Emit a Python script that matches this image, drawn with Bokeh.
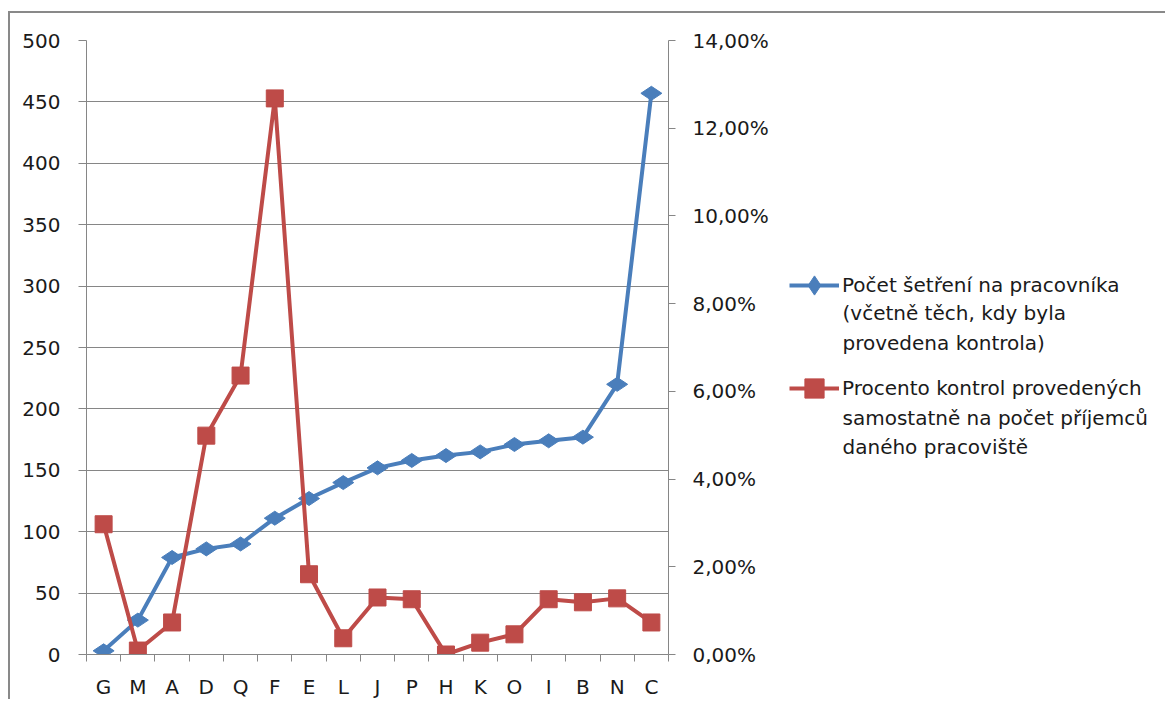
import math
from bokeh.plotting import figure
from bokeh.layouts import row
from bokeh.models import Range1d, LinearAxis, FixedTicker, Legend, LegendItem, Label
from bokeh.embed import file_html
from bokeh.resources import INLINE

categories = ["G", "M", "A", "D", "Q", "F", "E", "L", "J", "P", "H", "K", "O", "I", "B", "N", "C"]
investigations_per_worker = [3, 28, 79, 86, 90, 111, 127, 140, 152, 158, 162, 165, 171, 174, 177, 220, 457]
pct_independent_controls = [2.97, 0.09, 0.73, 4.99, 6.36, 12.68, 1.83, 0.37, 1.30, 1.26, 0.0, 0.27, 0.46, 1.26, 1.19, 1.28, 0.73]
left_ticks = [0, 50, 100, 150, 200, 250, 300, 350, 400, 450, 500]
right_ticks = [0, 2, 4, 6, 8, 10, 12, 14]
right_tick_labels = ["0,00%", "2,00%", "4,00%", "6,00%", "8,00%", "10,00%", "12,00%", "14,00%"]
label_blue_lines = ["Počet šetření na pracovníka", "(včetně těch, kdy byla", "provedena kontrola)"]
label_red_lines = ["Procento kontrol provedených", "samostatně na počet příjemců", "daného pracoviště"]

FONT = "DejaVu Sans"
FS = "20px"
GRAY = "#868686"
BLUE = "#4A7EBB"
RED = "#BE4B48"
TXT = "#1a1a1a"
BORDER = "2px solid #898989"
FRAME_H = 612

xs = list(range(1, len(categories) + 1))
boundaries = [k - 0.5 for k in range(1, len(categories) + 2)]


def series_renderers(fig, visible, y_range_name="default"):
    bl = fig.line(xs, investigations_per_worker, line_color=BLUE, line_width=4, visible=visible)
    bs = fig.scatter(xs, investigations_per_worker, marker="diamond", size=21, angle=math.pi / 2,
                     fill_color=BLUE, line_color=BLUE, visible=visible)
    rl = fig.line(xs, pct_independent_controls, y_range_name=y_range_name, line_color=RED,
                  line_width=4, visible=visible)
    rs = fig.scatter(xs, pct_independent_controls, y_range_name=y_range_name, marker="square",
                     size=17, fill_color=RED, line_color=RED, visible=visible)
    return bl, bs, rl, rs


# ---------------- main chart ----------------
p = figure(frame_width=580, frame_height=FRAME_H,
           min_border_left=76, min_border_right=100, min_border_top=27, min_border_bottom=47,
           x_range=Range1d(0.5, len(categories) + 0.5), y_range=Range1d(0, 500),
           output_backend="svg", toolbar_location=None)
p.styles = {"border-left": BORDER, "border-top": BORDER, "margin-top": "11px", "margin-left": "8px"}
p.outline_line_color = None
p.background_fill_color = "white"
p.border_fill_color = "white"
p.extra_y_ranges = {"pct": Range1d(0, 14)}

ya = p.yaxis[0]
ya.ticker = FixedTicker(ticks=left_ticks)
ya.axis_line_color = GRAY
ya.major_tick_line_color = GRAY
ya.major_tick_out = 8
ya.major_tick_in = 0
ya.minor_tick_line_color = None
ya.major_label_standoff = 18
ya.major_label_text_font = FONT
ya.major_label_text_font_size = FS
ya.major_label_text_color = TXT

xa = p.xaxis[0]
xa.ticker = FixedTicker(ticks=xs, minor_ticks=boundaries)
xa.major_label_overrides = {x: c for x, c in zip(xs, categories)}
xa.axis_line_color = GRAY
xa.major_tick_line_color = None
xa.minor_tick_line_color = GRAY
xa.minor_tick_out = 7
xa.minor_tick_in = 0
xa.major_label_standoff = 13
xa.major_label_text_font = FONT
xa.major_label_text_font_size = FS
xa.major_label_text_color = TXT

ra = LinearAxis(y_range_name="pct", ticker=FixedTicker(ticks=right_ticks),
                major_label_overrides={t: l for t, l in zip(right_ticks, right_tick_labels)})
ra.axis_line_color = GRAY
ra.major_tick_line_color = GRAY
ra.major_tick_out = 7
ra.major_tick_in = 0
ra.minor_tick_line_color = None
ra.major_label_standoff = 17
ra.major_label_text_font = FONT
ra.major_label_text_font_size = FS
ra.major_label_text_color = TXT
p.add_layout(ra, "right")

p.xgrid.grid_line_color = None
p.ygrid.ticker = FixedTicker(ticks=left_ticks)
p.ygrid.grid_line_color = GRAY
p.ygrid.grid_line_width = 1

series_renderers(p, True, "pct")

# ---------------- legend panel (frame aligned with the chart's frame) ----------------
LW = 396
q = figure(frame_width=LW, frame_height=FRAME_H,
           min_border_left=0, min_border_right=0, min_border_top=27, min_border_bottom=47,
           x_range=Range1d(0, LW), y_range=Range1d(0, FRAME_H),
           x_axis_type=None, y_axis_type=None,
           output_backend="svg", toolbar_location=None)
q.styles = {"border-top": BORDER, "margin-top": "11px"}
q.grid.grid_line_color = None
q.outline_line_color = None
q.background_fill_color = "white"
q.border_fill_color = "white"

# hidden copies of the series, used only as legend keys
kb_line, kb_mark, kr_line, kr_mark = series_renderers(q, False)

legend = Legend(items=[LegendItem(label=label_blue_lines[0], renderers=[kb_line, kb_mark]),
                       LegendItem(label=label_red_lines[0], renderers=[kr_line, kr_mark])],
                location=(20, 242))
legend.label_text_font = FONT
legend.label_text_font_size = FS
legend.label_text_color = TXT
legend.glyph_width = 50
legend.glyph_height = 48
legend.label_height = 48
legend.label_standoff = 3
legend.spacing = 55
legend.padding = 0
legend.margin = 0
legend.border_line_color = None
legend.background_fill_alpha = 0
legend.inactive_fill_alpha = 0
legend.click_policy = "none"
q.add_layout(legend)

text_x = 73
blue_line_ys = [340, 310]
red_line_ys = [236, 207]
for txt, yy in zip(label_blue_lines[1:] + label_red_lines[1:], blue_line_ys + red_line_ys):
    q.add_layout(Label(x=text_x, y=yy, text=txt, text_font=FONT, text_font_size=FS,
                       text_color=TXT, text_baseline="middle", text_align="left"))

layout = row(p, q)
open("out.html", "w").write(file_html(layout, INLINE))
